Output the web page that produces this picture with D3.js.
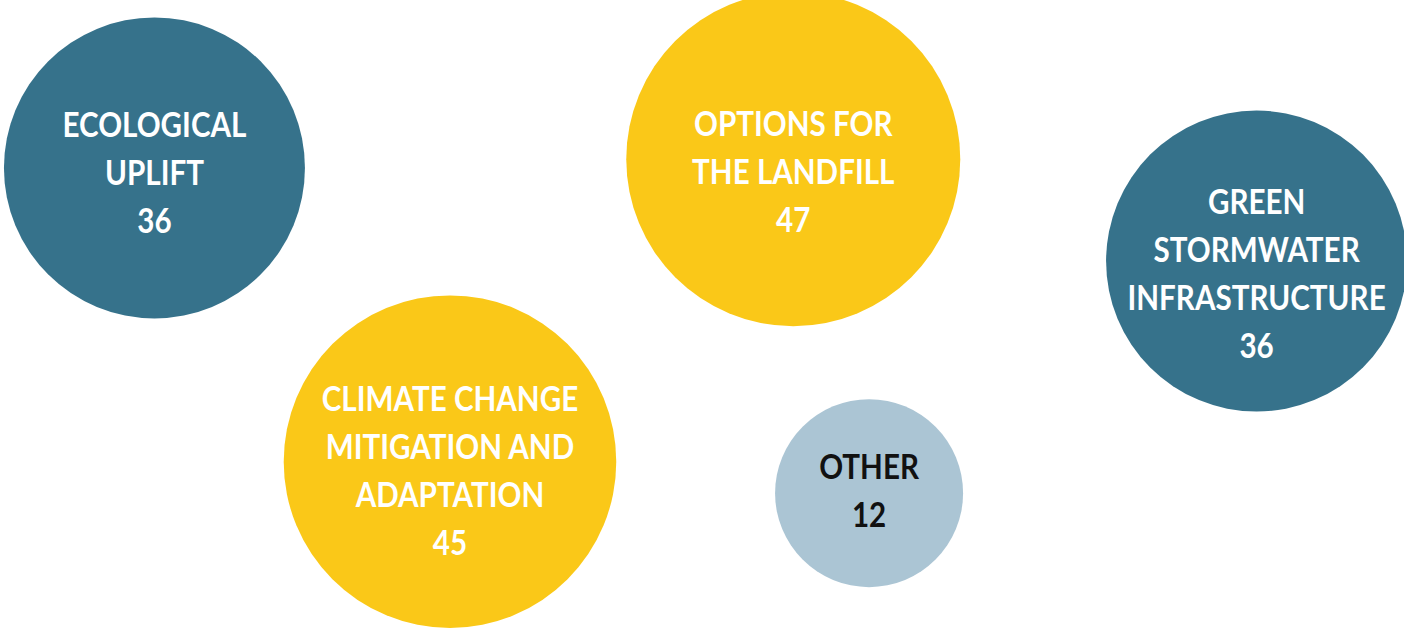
<!DOCTYPE html>
<html>
<head>
<meta charset="utf-8">
<script src="https://cdn.jsdelivr.net/npm/d3@7"></script>
<style>
  html, body { margin: 0; padding: 0; background: #fff; overflow: hidden; }
  text { font-family: Lato, "Liberation Sans", sans-serif; font-weight: 700; }
</style>
</head>
<body>
<script>
const WIDTH = 1404;
const HEIGHT = 629;

// data
const TOPICS = [
  ["ECOLOGICAL", "UPLIFT"],
  ["OPTIONS FOR", "THE LANDFILL"],
  ["GREEN", "STORMWATER", "INFRASTRUCTURE"],
  ["CLIMATE CHANGE", "MITIGATION AND", "ADAPTATION"],
  ["OTHER"],
];
const COUNTS = [36, 47, 36, 45, 12];
const GROUPS = ["main", "top", "main", "top", "other"];

// layout (fractions of the frame) - where each bubble sits, and label nudge
const POS_X = [0.110, 0.565, 0.895, 0.3205, 0.619];
const POS_Y = [0.267, 0.253, 0.415, 0.734, 0.784];
const LABEL_DY = [0, 8, 8, 4, -7];

const FILL = { main: "#36728b", top: "#fac818", other: "#abc5d4" };
const INK = { main: "#ffffff", top: "#ffffff", other: "#111111" };

const LINE = 48;
const FONT = 35;
const SQUEEZE_REF = 184; // width of "ECOLOGICAL" in the original type

const x = d3.scaleLinear().domain([0, 1]).range([0, WIDTH]);
const y = d3.scaleLinear().domain([0, 1]).range([0, HEIGHT]);
const r = d3.scaleSqrt().domain([12, 36]).range([94, 150.5]).clamp(false);

const data = TOPICS.map((t, i) => ({
  lines: [...t, String(COUNTS[i])],
  value: COUNTS[i],
  group: GROUPS[i],
  px: POS_X[i],
  py: POS_Y[i],
  dy: LABEL_DY[i],
}));

const svg = d3
  .select("body")
  .append("svg")
  .attr("width", WIDTH)
  .attr("height", HEIGHT);

// measure the font so it can be narrowed like the condensed original
const probe = svg
  .append("text")
  .attr("font-size", FONT)
  .text(TOPICS[0][0]);
const squeeze = SQUEEZE_REF / probe.node().getComputedTextLength();
probe.remove();

const bubble = svg
  .selectAll("g")
  .data(data)
  .enter()
  .append("g")
  .attr("transform", (d) => `translate(${x(d.px)}, ${y(d.py)})`);

bubble
  .append("circle")
  .attr("r", (d) => Math.min(r(d.value), 167))
  .attr("fill", (d) => FILL[d.group]);

bubble
  .append("text")
  .attr("text-anchor", "middle")
  .attr("font-size", FONT)
  .attr("transform", (d) => `translate(0, ${d.dy}) scale(${squeeze}, 1)`)
  .attr("fill", (d) => INK[d.group])
  .selectAll("tspan")
  .data((d) => d.lines)
  .enter()
  .append("tspan")
  .attr("x", 0)
  .attr("y", (d, i, n) => (i - (n.length - 1) / 2) * LINE + 17)
  .text((d) => d);
</script>
</body>
</html>
